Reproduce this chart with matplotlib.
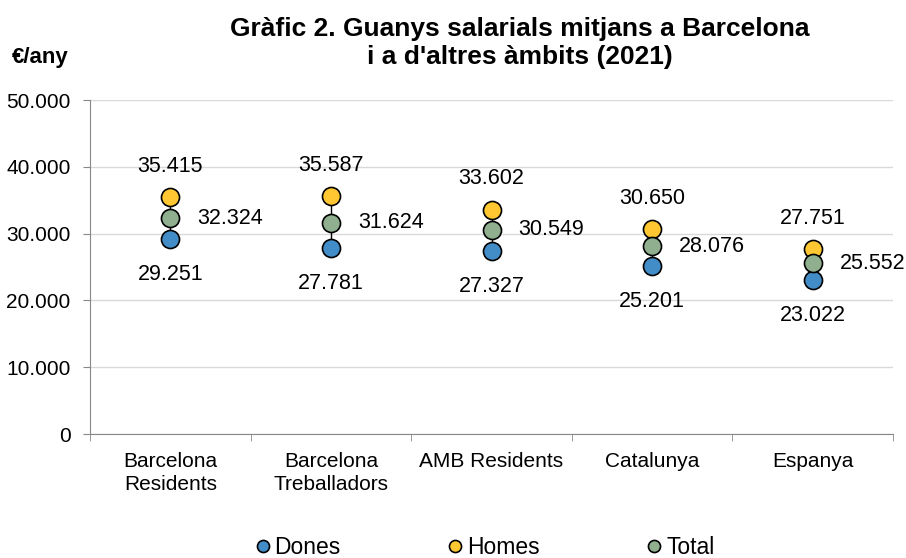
import numpy as np
import matplotlib.pyplot as plt
from matplotlib.ticker import FuncFormatter
from matplotlib.lines import Line2D

plt.rcParams['font.family'] = ['Liberation Sans', 'DejaVu Sans']

categories = ["Barcelona\nResidents", "Barcelona\nTreballadors", "AMB Residents", "Catalunya", "Espanya"]
dones = [29251, 27781, 27327, 25201, 23022]
homes = [35415, 35587, 33602, 30650, 27751]
total = [32324, 31624, 30549, 28076, 25552]

c_dones = "#428CC8"
c_homes = "#FFC832"
c_total = "#8FAF8F"

def fmt(v):
    return "{:,.0f}".format(v).replace(",", ".")

fig = plt.figure(figsize=(9.06, 5.58), dpi=100)
ax = fig.add_axes([90/906, 1-434/558, 803/906, 334/558])

x = np.arange(len(categories))
ax.vlines(x, dones, homes, color="black", lw=1, zorder=2)
ax.plot(x, dones, "o", ms=13, mfc=c_dones, mec="black", mew=1.2, ls="none", zorder=3)
ax.plot(x, homes, "o", ms=13, mfc=c_homes, mec="black", mew=1.2, ls="none", zorder=3)
ax.plot(x, total, "o", ms=13, mfc=c_total, mec="black", mew=1.2, ls="none", zorder=3)

for i in range(len(x)):
    ax.annotate(fmt(homes[i]), (x[i], homes[i]), xytext=(0, 22), textcoords="offset points",
                ha="center", va="center", fontsize=15.5)
    ax.annotate(fmt(dones[i]), (x[i], dones[i]), xytext=(0, -25.5), textcoords="offset points",
                ha="center", va="center", fontsize=15.5)
    ax.annotate(fmt(total[i]), (x[i], total[i]), xytext=(19.5, 0), textcoords="offset points",
                ha="left", va="center", fontsize=15.5)

ax.set_xlim(-0.5, len(categories) - 0.5)
ax.set_ylim(0, 50000)
ax.set_yticks(np.arange(0, 50001, 10000))
ax.yaxis.set_major_formatter(FuncFormatter(lambda v, p: fmt(v)))
ax.set_xticks(x)
ax.set_xticklabels(categories, fontsize=15, linespacing=1.25)
ax.set_xticks(np.arange(-0.5, len(categories), 1), minor=True)
ax.tick_params(axis="x", which="major", length=0, pad=13)
ax.tick_params(axis="x", which="minor", length=5, color="#888888")
ax.tick_params(axis="y", labelsize=15, length=5, pad=9, color="#888888")
ax.grid(axis="y", color="#D9D9D9", lw=1)
ax.set_axisbelow(True)
for s in ["top", "right"]:
    ax.spines[s].set_visible(False)
ax.spines["left"].set_color("#888888")
ax.spines["bottom"].set_color("#888888")

fig.text(520/906, 1-43/558, "Gràfic 2. Guanys salarials mitjans a Barcelona\ni a d'altres àmbits (2021)",
         ha="center", va="center", fontsize=19, fontweight="bold", linespacing=1.25)
fig.text(12/906, 1-58/558, "€/any", ha="left", va="center", fontsize=16, fontweight="bold")

handles = [Line2D([], [], marker="o", ls="none", ms=8.7, mfc=c, mec="black", mew=1.2)
           for c in (c_dones, c_homes, c_total)]
fig.legend(handles, ["Dones", "Homes", "Total"], loc="center", bbox_to_anchor=(484/906, 1-548/558),
           ncol=3, frameon=False, fontsize=16.5, handletextpad=0.12, columnspacing=4.6,
           handlelength=0.8, borderpad=0, borderaxespad=0)

fig.savefig("out.png", dpi=100)
